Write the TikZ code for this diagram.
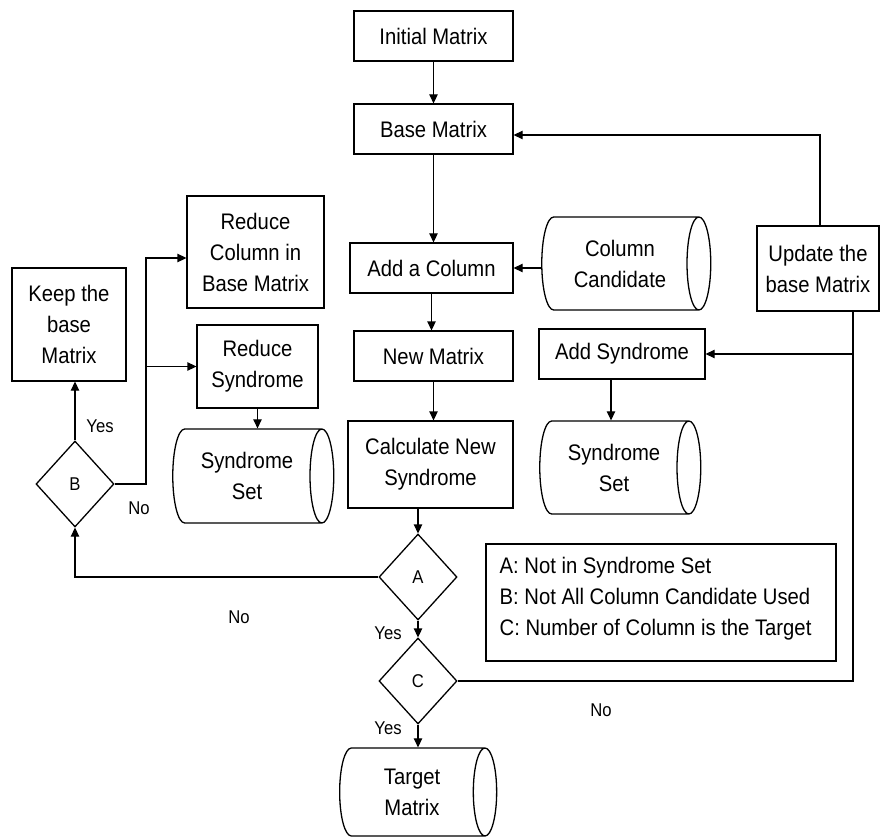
\documentclass[tikz,border=0pt]{standalone}
\usepackage{fontspec}
\setmainfont{Liberation Sans}[FakeStretch=0.9]
\usetikzlibrary{shapes.geometric,arrows.meta}
\newcommand\mainfs{\fontsize{22.5}{31}\selectfont}
\newcommand\smallfs{\fontsize{18.5}{22}\selectfont}
\begin{document}
\begin{tikzpicture}[x=1pt,y=-1pt, line width=1.3pt,
  >={Triangle[length=9pt,width=8.5pt]},
  box/.style={draw, rectangle, align=center, inner sep=0pt, font=\mainfs},
  can/.style={draw, cylinder, aspect=0.5, align=center, inner sep=0pt, font=\mainfs},
  dec/.style={draw, diamond, inner sep=0pt, minimum width=78pt, minimum height=86pt, font=\smallfs},
  lab/.style={font=\smallfs, inner sep=0pt}]
\useasboundingbox (0,0) rectangle (881,837);
% main column
\node[box, minimum width=159pt, minimum height=50pt] (init) at (433.5,36) {Initial Matrix};
\node[box, minimum width=159pt, minimum height=50pt] (base) at (433.5,129) {Base Matrix};
\node[box, minimum width=163pt, minimum height=50pt] (addcol) at (431.5,268) {Add a Column};
\node[box, minimum width=159pt, minimum height=50pt] (newm) at (433.5,356) {New Matrix};
\node[box, minimum width=165pt, minimum height=87pt] (calc) at (430.5,464.5) {Calculate New\\Syndrome};
\node[dec] (A) at (418,577) {A};
\node[dec] (C) at (418,681) {C};
\node[can, minimum height=157pt, minimum width=88pt] (targ) at (412,792) {Target\\Matrix};
% right
\node[can, minimum height=169pt, minimum width=93pt] (cand) at (620,263.5) {Column\\Candidate};
\node[box, minimum width=122pt, minimum height=85pt] (upd) at (818,268.5) {Update the\\base Matrix};
\node[box, minimum width=166pt, minimum height=50pt] (addsyn) at (622,354) {Add Syndrome};
\node[can, minimum height=161pt, minimum width=93pt] (synR) at (614,467.5) {Syndrome\\Set};
\node[draw, minimum width=350pt, minimum height=117pt] (leg) at (661,602.5) {};
\node[anchor=west, align=left, font=\mainfs, inner sep=0pt] (legt) at (499,599)
  {A: Not in Syndrome Set\\B: Not All Column Candidate Used\\C: Number of Column is the Target};
% left
\node[box, minimum width=114pt, minimum height=113pt] (keep) at (69,324.5) {Keep the\\base\\Matrix};
\node[box, minimum width=137pt, minimum height=112pt] (redcol) at (255.5,252) {Reduce\\Column in\\Base Matrix};
\node[box, minimum width=121pt, minimum height=83pt] (redsyn) at (257.5,366.5) {Reduce\\Syndrome};
\node[can, minimum height=161pt, minimum width=94pt] (synL) at (247,476) {Syndrome\\Set};
\node[dec] (B) at (75,484) {B};
% labels
\node[lab] (yA) at (388,633) {Yes};
\node[lab] (yC) at (388,728) {Yes};
\node[lab] (nC) at (601,710) {No};
\node[lab] (nA) at (239,617) {No};
\node[lab] (yB) at (100,426) {Yes};
\node[lab] (nB) at (139,508) {No};
% connectors
\draw[->] (init.south) -- (base.north);
\draw[->] (base.south) -- (base.south |- addcol.north);
\draw[->] (addcol.south) -- (addcol.south |- newm.north);
\draw[->] (newm.south) -- (newm.south |- calc.north);
\draw[->] (calc.south -| A.north) -- (A.north);
\draw[->] (A.south) -- (C.north);
\draw[->] (C.south) -- (C.south |- targ.north);
\draw[->] (cand.west |- addcol.east) -- (addcol.east);
\coordinate (u1) at (820,135);
\draw[->] (upd.north -| u1) -- (u1) -- (base.east |- u1);
\coordinate (r1) at (853,354);
\draw (C.east) -- (C.east -| r1) -- (upd.south -| r1);
\draw[->] (r1) -- (addsyn.east);
\coordinate (s1) at (611,0);
\draw[->] (addsyn.south -| s1) -- (synR.north -| s1);
\draw[->] (B.north) -- (B.north |- keep.south);
\coordinate (bj) at (146,484);
\coordinate (bc) at (146,258);
\draw[->] (B.east) -- (bj) -- (bc) -- (redcol.west |- bc);
\draw[->] (bj |- redsyn.west) -- (redsyn.west);
\draw[->] (redsyn.south) -- (redsyn.south |- synL.north);
\draw[->] (A.west) -- (A.west -| B.south) -- (B.south);
\end{tikzpicture}
\end{document}
